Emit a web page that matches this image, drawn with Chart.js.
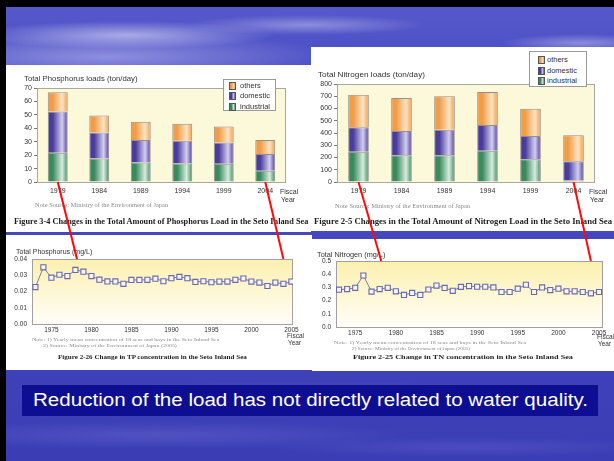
<!DOCTYPE html>
<html>
<head>
<meta charset="utf-8">
<script src="https://cdn.jsdelivr.net/npm/chart.js@4.4.1/dist/chart.umd.min.js"></script>
<style>
  html, body { margin: 0; padding: 0; }
  body { width: 614px; height: 461px; overflow: hidden; position: relative; background: #000;
         font-family: "Liberation Sans", Arial, sans-serif; }
  #bg { position: absolute; left: 6px; top: 7px; width: 608px; height: 454px;
    background:
      radial-gradient(ellipse 150px 14px at 120px 28px, rgba(225,225,250,.6), rgba(225,225,250,0)),
      radial-gradient(ellipse 230px 24px at 100px 50px, rgba(195,195,242,.55), rgba(195,195,242,0)),
      radial-gradient(ellipse 120px 10px at 300px 18px, rgba(210,210,245,.45), rgba(210,210,245,0)),
      radial-gradient(ellipse 80px 9px at 575px 36px, rgba(210,210,245,.45), rgba(210,210,245,0)),
      radial-gradient(ellipse 300px 18px at 300px 392px, rgba(120,120,215,.35), rgba(120,120,215,0)),
      radial-gradient(ellipse 260px 14px at 150px 428px, rgba(120,120,215,.35), rgba(120,120,215,0)),
      radial-gradient(ellipse 200px 10px at 460px 440px, rgba(120,120,215,.25), rgba(120,120,215,0)),
      linear-gradient(180deg, #5659ca 0%, #4c4fc5 12%, #4245bd 60%, #3b3db5 100%); }
  .panel { position: absolute; background: #fff; }
  canvas { position: absolute; }
  .t { position: absolute; white-space: nowrap; line-height: 1; color: #333; transform-origin: 0 50%; }
  .serif { font-family: "Liberation Serif", "Times New Roman", serif; color: #8a8a8a; }
  .cap { font-family: "Liberation Serif", "Times New Roman", serif; font-weight: bold; color: #1c1c1c; }
  .legend { position: absolute; background: #fff; border: 1px solid #9a9a9a; box-sizing: border-box; }
  .legend div { position: absolute; font-size: 7.5px; line-height: 1; color: #333; white-space: nowrap; }
  .legend span { position: absolute; width: 5px; height: 6px; border: 1px solid #555; }
  #msg { position: absolute; left: 22px; top: 385px; width: 576px; height: 31px; background: #0e0e93; }
  #msg span { position: absolute; left: 11px; top: 6px; color: #fff; font-size: 18px; line-height: 1;
              white-space: nowrap; transform-origin: 0 50%; }
  #links { z-index: 10; pointer-events: none; }
</style>
</head>
<body>
<div id="bg"></div>
<div class="panel" style="left:6px;top:65px;width:305px;height:167px"></div>
<div class="panel" style="left:311px;top:47px;width:303px;height:184px"></div>
<div class="panel" style="left:6px;top:235px;width:306px;height:135px"></div>
<div class="panel" style="left:312px;top:239px;width:302px;height:132px"></div>

<canvas id="pLoad" width="305" height="140" style="left:6px;top:65px"></canvas>
<canvas id="nLoad" width="303" height="155" style="left:311px;top:47px"></canvas>
<canvas id="tpConc" width="306" height="105" style="left:6px;top:235px"></canvas>
<canvas id="tnConc" width="302" height="100" style="left:312px;top:239px"></canvas>

<div id="msg"><span>Reduction of the load has not directly related to water quality.</span></div>
<canvas id="links" width="614" height="461" style="left:0;top:0"></canvas>

<script>
const loadYears = ['1979', '1984', '1989', '1994', '1999', '2004'];
const loadSeries = ['industrial', 'domestic', 'others'];

// Total phosphorus loads (ton/day)
const pIndustrial = [21.7, 17.5, 14.5, 13.8, 13.5, 8.3];
const pDomestic = [30.8, 19.3, 16.8, 17.0, 16.0, 12.5];
const pOthers = [14.3, 12.7, 13.5, 12.5, 11.8, 10.5];
const pLoadTicks = [0, 10, 20, 30, 40, 50, 60, 70];

// Total nitrogen loads (ton/day)
const nIndustrial = [247, 219, 219, 255, 186, 12];
const nDomestic = [200, 197, 208, 211, 189, 158];
const nOthers = [265, 269, 272, 268, 222, 211];
const nLoadTicks = [0, 100, 200, 300, 400, 500, 600, 700, 800];

// yearly mean concentration (mg/L)
const concYears = [1973, 1974, 1975, 1976, 1977, 1978, 1979, 1980, 1981, 1982, 1983,
                   1984, 1985, 1986, 1987, 1988, 1989, 1990, 1991, 1992, 1993, 1994,
                   1995, 1996, 1997, 1998, 1999, 2000, 2001, 2002, 2003, 2004, 2005];
const tpConc = [0.0227, 0.0349, 0.0285, 0.0303, 0.0295, 0.0333, 0.0322, 0.0295, 0.0273, 0.0262, 0.0262,
                0.0247, 0.0271, 0.0271, 0.0272, 0.0279, 0.0263, 0.0282, 0.0290, 0.0282, 0.0259, 0.0263,
                0.0257, 0.0261, 0.0261, 0.0272, 0.0280, 0.0261, 0.0255, 0.0234, 0.0255, 0.0247, 0.0261];
const tnConc = [0.283, 0.287, 0.297, 0.390, 0.268, 0.287, 0.297, 0.270, 0.243, 0.258, 0.243,
                0.284, 0.314, 0.296, 0.274, 0.304, 0.310, 0.305, 0.305, 0.300, 0.265, 0.265,
                0.290, 0.320, 0.265, 0.300, 0.280, 0.290, 0.270, 0.270, 0.265, 0.255, 0.265];
const yearTicks = [1975, 1980, 1985, 1990, 1995, 2000, 2005];
const tpTicks = [0, 0.01, 0.02, 0.03, 0.04];
const tnTicks = [0, 0.1, 0.2, 0.3, 0.4, 0.5];

// red connectors: load bar year -> concentration year
const linkFrom = ['1979', '2004'];
const linkTo = [1978.2, 2004];

const colors = {
  others: ['#f29c48', '#fde4c2'],
  domestic: ['#4a3c9c', '#d4cef0'],
  industrial: ['#3a8a5e', '#d8ecdf']
};

Chart.defaults.font.family = '"Liberation Sans", Arial, sans-serif';
Chart.defaults.color = '#333';

// plot box background + frame
Chart.register({
  id: 'plotBg',
  beforeDatasetsDraw(chart, args, opts) {
    const ctx = chart.ctx, a = chart.chartArea;
    ctx.save();
    let fill = opts.fill;
    if (opts.fade) {
      fill = ctx.createLinearGradient(0, a.top, 0, a.bottom);
      fill.addColorStop(0, opts.fill);
      fill.addColorStop(1, opts.fade);
    }
    ctx.fillStyle = fill;
    ctx.fillRect(a.left, a.top, a.width, a.height);
    ctx.strokeStyle = opts.border;
    ctx.lineWidth = 1;
    ctx.strokeRect(Math.round(a.left) + 0.5, Math.round(a.top) + 0.5, Math.round(a.width) - 1, Math.round(a.height));
    ctx.restore();
  }
});

function barFill(pair) {
  return function (c) {
    const chart = c.chart;
    const xs = chart.scales.x;
    if (!chart.chartArea || !xs || c.type !== 'data') return pair[0];
    const cx = xs.getPixelForValue(c.dataIndex);
    const w = xs.width / loadYears.length * 0.48;
    const g = chart.ctx.createLinearGradient(cx - w / 2, 0, cx + w / 2, 0);
    g.addColorStop(0, pair[0]);
    g.addColorStop(0.25, pair[0]);
    g.addColorStop(0.72, pair[1]);
    g.addColorStop(1, pair[0]);
    return g;
  };
}

function loadChart(id, area, ticks, values) {
  const cv = document.getElementById(id);
  const W = cv.width, H = cv.height;
  return new Chart(cv, {
    type: 'bar',
    data: {
      labels: loadYears,
      datasets: loadSeries.map((name, i) => ({
        label: name,
        data: values[i],
        backgroundColor: barFill(colors[name]),
        borderColor: 'rgba(60,60,80,0.55)',
        borderWidth: 1,
        barPercentage: 0.48,
        categoryPercentage: 1
      }))
    },
    options: {
      responsive: false,
      animation: false,
      layout: { padding: { left: 0, top: area[1], right: W - area[2], bottom: 0 } },
      plugins: { legend: { display: false }, tooltip: { enabled: false },
                 plotBg: { fill: '#fcf8da', border: '#a8a8a0' } },
      scales: {
        x: { stacked: true,
             afterFit: a => { a.height = H - area[3]; },
             grid: { display: false, drawTicks: false }, border: { display: false },
             ticks: { padding: 5, font: { size: 7 }, maxRotation: 0 } },
        y: { stacked: true, min: ticks[0], max: ticks[ticks.length - 1],
             afterFit: a => { a.width = area[0]; },
             afterBuildTicks: a => { a.ticks = ticks.map(v => ({ value: v })); },
             grid: { drawOnChartArea: false, tickLength: 3, color: '#777' },
             border: { display: false },
             ticks: { padding: 2, font: { size: 7 } } }
      }
    }
  });
}

function concChart(id, area, values, xMin, xMax, yTicks, digits) {
  const cv = document.getElementById(id);
  const W = cv.width, H = cv.height;
  return new Chart(cv, {
    type: 'line',
    data: {
      datasets: [{
        data: concYears.map((y, i) => ({ x: y, y: values[i] })),
        borderColor: '#7c7cae',
        borderWidth: 1,
        pointStyle: 'rect',
        pointRadius: 3.6,
        pointBackgroundColor: '#f4f4fa',
        pointBorderColor: '#6a6aa4',
        pointBorderWidth: 1.1,
        tension: 0
      }]
    },
    options: {
      responsive: false,
      animation: false,
      layout: { padding: { left: 0, top: area[1], right: W - area[2], bottom: 0 } },
      plugins: { legend: { display: false }, tooltip: { enabled: false },
                 plotBg: { fill: '#fcf0ae', fade: '#fffef8', border: '#a0a0a0' } },
      scales: {
        x: { type: 'linear', min: xMin, max: xMax,
             afterFit: a => { a.height = H - area[3]; },
             afterBuildTicks: a => { a.ticks = yearTicks.map(v => ({ value: v })); },
             grid: { display: false, drawTicks: false }, border: { display: false },
             ticks: { padding: 2, font: { size: 6.5 }, maxRotation: 0, callback: v => String(v) } },
        y: { min: yTicks[0], max: yTicks[yTicks.length - 1],
             afterFit: a => { a.width = area[0]; },
             afterBuildTicks: a => { a.ticks = yTicks.map(v => ({ value: v })); },
             grid: { display: false, drawTicks: false }, border: { display: false },
             ticks: { padding: 5, font: { size: 6.5 }, callback: v => v.toFixed(digits) } }
      }
    }
  });
}

const pChart = loadChart('pLoad', [31, 23, 280, 117], pLoadTicks, [pIndustrial, pDomestic, pOthers]);
const nChart = loadChart('nLoad', [26, 37, 284, 135], nLoadTicks, [nIndustrial, nDomestic, nOthers]);
const tpChart = concChart('tpConc', [26, 24, 287, 89], tpConc, 1972.575, 2005.2, tpTicks, 2);
const tnChart = concChart('tnConc', [24, 22, 291, 88], tnConc, 1972.63, 2005.49, tnTicks, 1);

// texts
function label(txt, x, cy, size, cls, fitW) {
  const d = document.createElement('div');
  d.className = 't ' + (cls || '');
  d.textContent = txt;
  d.style.left = x + 'px';
  d.style.top = (cy - size / 2) + 'px';
  d.style.fontSize = size + 'px';
  document.body.appendChild(d);
  if (fitW) d.style.transform = 'scaleX(' + (fitW / d.offsetWidth).toFixed(3) + ')';
  return d;
}

label('Total Phosphorus loads (ton/day)', 24, 79, 7.5, '', 114);
label('Fiscal', 280, 191, 7);
label('Year', 281, 199.5, 7);
label('Note Source: Ministry of the Environment of Japan', 35, 206, 5.5, 'serif', 133);
label('Figure 3-4 Changes in the Total Amount of Phosphorus Load in the Seto Inland Sea', 14, 222, 8, 'cap', 294);

label('Total Nitrogen loads (ton/day)', 318, 75, 7.5, '', 107);
label('Fiscal', 589, 191, 7);
label('Year', 590, 199.5, 7);
label('Note Source: Ministry of the Environment of Japan', 335, 207, 5.5, 'serif', 135);
label('Figure 2-5 Changes in the Total Amount of Nitrogen Load in the Seto Inland Sea', 314, 222, 8, 'cap', 298);

label('Total Phosphorus (mg/L)', 16, 251.5, 7, '', 76);
label('Note:  1) Yearly mean concentration of 18 seas and bays in the Seto Inland Sea', 32, 339.5, 5, 'serif', 188);
label('2) Source: Ministry of the Environment of Japan (2005)', 43, 345, 5, 'serif', 134);
label('Fiscal', 287, 336, 6.5);
label('Year', 288, 343.5, 6.5);
label('Figure 2-26 Change in TP concentration in the Seto Inland Sea', 58, 357.3, 7, 'cap', 189);

label('Total Nitrogen (mg/L)', 317, 254, 7, '', 68);
label('Note:  1) Yearly mean concentration of 18 seas and bays in the Seto Inland Sea', 334, 342.5, 5, 'serif', 193);
label('2) Source: Ministry of the Environment of Japan (2005)', 352, 348, 5, 'serif', 118);
label('Fiscal', 597, 337.3, 6.5);
label('Year', 598, 344, 6.5);
label('Figure 2-25 Change in TN concentration in the Seto Inland Sea', 353, 357.7, 7, 'cap', 220);

// legends
function legend(x, y, w, h, rowY, swX, txX) {
  const box = document.createElement('div');
  box.className = 'legend';
  Object.assign(box.style, { left: x + 'px', top: y + 'px', width: w + 'px', height: h + 'px' });
  loadSeries.slice().reverse().forEach((name, i) => {
    const sw = document.createElement('span');
    const c = colors[name];
    sw.style.left = swX + 'px';
    sw.style.top = (rowY[i] - 4) + 'px';
    sw.style.background = 'linear-gradient(90deg,' + c[0] + ' 0%,' + c[0] + ' 30%,' + c[1] + ' 75%,' + c[0] + ' 100%)';
    const t = document.createElement('div');
    t.textContent = name;
    t.style.left = txX + 'px';
    t.style.top = (rowY[i] - 4) + 'px';
    box.appendChild(sw);
    box.appendChild(t);
  });
  document.body.appendChild(box);
}
legend(223, 79, 53, 32, [6, 16, 26.5], 5, 16);
legend(529, 51, 58, 36, [7.5, 18.5, 29], 8, 17);

const msg = document.querySelector('#msg span');
msg.style.transform = 'scaleX(' + (555 / msg.offsetWidth).toFixed(3) + ')';

// red connector lines between the load charts and the concentration charts
const lk = document.getElementById('links').getContext('2d');
lk.strokeStyle = '#ff0a0a';
lk.lineWidth = 2;
function connect(top, bottom) {
  const tc = top.canvas, bc = bottom.canvas;
  linkFrom.forEach((yr, i) => {
    const x0 = tc.offsetLeft + top.scales.x.getPixelForValue(loadYears.indexOf(yr));
    const y0 = tc.offsetTop + top.scales.y.getPixelForValue(0);
    const x1 = bc.offsetLeft + bottom.scales.x.getPixelForValue(linkTo[i]);
    const y1 = bc.offsetTop + bottom.chartArea.top;
    lk.beginPath();
    lk.moveTo(x0, y0);
    lk.lineTo(x1, y1);
    lk.stroke();
  });
}
connect(pChart, tpChart);
connect(nChart, tnChart);
</script>
</body>
</html>
